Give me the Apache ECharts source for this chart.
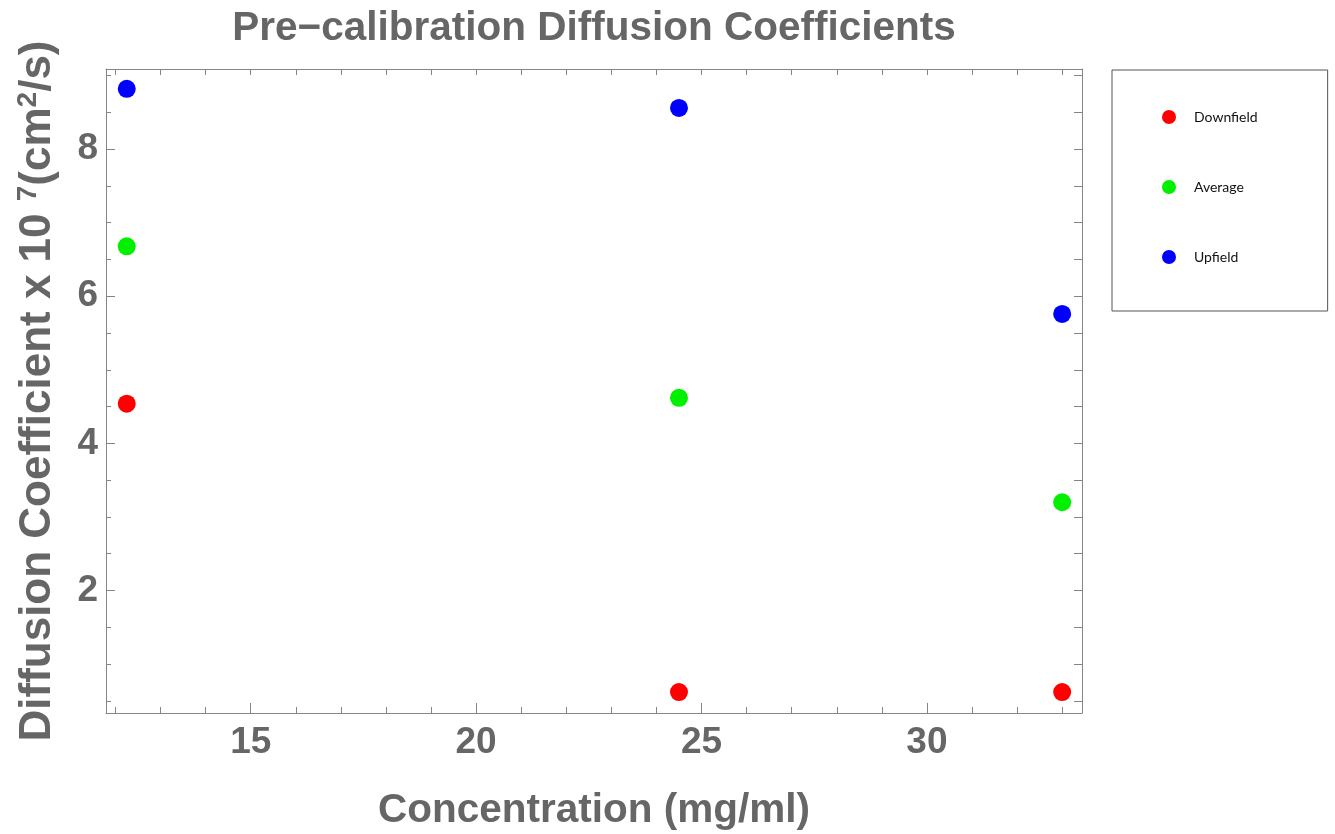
<!DOCTYPE html>
<html>
<head>
<meta charset="utf-8">
<title>Pre-calibration Diffusion Coefficients</title>
<script src="https://cdn.jsdelivr.net/npm/echarts@6/dist/echarts.min.js"></script>
<style>
    html, body { margin: 0; padding: 0; background: #fff; }
    #chart { width: 1335px; height: 834px; }
</style>
</head>
<body>
<div id="chart"></div>
<script>
    // data
    var concentration = [12.25, 24.5, 33];
    var downfield = [4.54, 0.62, 0.62];
    var average = [6.68, 4.62, 3.20];
    var upfield = [8.82, 8.56, 5.76];

    var xMajor = [15, 20, 25, 30];
    var xMinor = [12, 13, 14, 16, 17, 18, 19, 21, 22, 23, 24, 26, 27, 28, 29, 31, 32, 33];
    var yMajor = [2, 4, 6, 8];
    var yMinor = [0.5, 1, 1.5, 2.5, 3, 3.5, 4.5, 5, 5.5, 6.5, 7, 7.5, 8.5, 9];

    var xRange = [11.79, 33.44];
    var yRange = [0.335, 9.09];

    var gray = '#666666';
    var lineGray = '#858585';
    var font = '"Liberation Sans", Arial, sans-serif';

    function pairs(xs, ys) {
        return xs.map(function (x, i) { return [x, ys[i]]; });
    }

    // one axis per side and tick size (Mathematica style frame, ticks inside)
    function frameAxis(pos, range, ticks, len, withLine) {
        return {
            type: 'value',
            position: pos,
            min: range[0],
            max: range[1],
            axisLine: { show: withLine, onZero: false, lineStyle: { color: lineGray, width: 1 } },
            axisTick: { show: true, inside: true, length: len, customValues: ticks, lineStyle: { color: lineGray } },
            axisLabel: { show: false },
            splitLine: { show: false }
        };
    }

    var xBottom = frameAxis('bottom', xRange, xMajor, 10, true);
    xBottom.axisLabel = {
        show: true, customValues: xMajor, margin: 11,
        color: gray, fontFamily: font, fontWeight: 'bold', fontSize: 37
    };
    xBottom.name = 'Concentration (mg/ml)';
    xBottom.nameLocation = 'middle';
    xBottom.nameGap = 77;
    xBottom.nameTextStyle = { color: gray, fontFamily: font, fontWeight: 'bold', fontSize: 40.5 };

    var yLeft = frameAxis('left', yRange, yMajor, 9, true);
    yLeft.axisLabel = {
        show: true, customValues: yMajor, margin: 8,
        color: gray, fontFamily: font, fontWeight: 'bold', fontSize: 37
    };
    yLeft.name = '{a|Diffusion Coefficient x 10 }{s|7}{a|(cm}{s|2}{a|/s)}';
    yLeft.nameLocation = 'middle';
    yLeft.nameGap = 44;
    yLeft.nameTextStyle = {
        color: gray, fontFamily: font, fontWeight: 'bold', fontSize: 44,
        rich: {
            a: { color: gray, fontFamily: font, fontWeight: 'bold', fontSize: 44, lineHeight: 48 },
            s: { color: gray, fontFamily: font, fontWeight: 'bold', fontSize: 28, lineHeight: 48, verticalAlign: 'top' }
        }
    };

    var myChart = echarts.init(document.getElementById('chart'));
    var option = {
        backgroundColor: '#fff',
        animation: false,
        title: {
            text: 'Pre\u2212calibration Diffusion Coefficients',
            left: 589,
            textAlign: 'center',
            top: 3,
            textStyle: { color: gray, fontFamily: font, fontWeight: 'bold', fontSize: 40.5 }
        },
        legend: {
            orient: 'vertical',
            left: 1112,
            top: 70,
            itemWidth: 40,
            itemHeight: 14,
            itemGap: 56,
            padding: [40, 70, 47, 50],
            borderColor: '#555',
            borderWidth: 1,
            icon: 'circle',
            textStyle: { fontFamily: 'Lato, "Open Sans", sans-serif', fontSize: 14, color: '#111' },
            data: ['Downfield', 'Average', 'Upfield']
        },
        grid: { left: 106, right: 253, top: 69, bottom: 121, containLabel: false, outerBoundsMode: 'none' },
        xAxis: [
            xBottom,
            frameAxis('bottom', xRange, xMinor, 6, false),
            frameAxis('top', xRange, xMajor.concat(xMinor), 6, true)
        ],
        yAxis: [
            yLeft,
            frameAxis('left', yRange, yMinor, 5, false),
            frameAxis('right', yRange, yMajor.concat(yMinor), 8, true)
        ],
        series: [
            { name: 'Downfield', type: 'scatter', symbolSize: 18, itemStyle: { color: '#ff0000', opacity: 1 }, data: pairs(concentration, downfield) },
            { name: 'Average', type: 'scatter', symbolSize: 18, itemStyle: { color: '#00f000', opacity: 1 }, data: pairs(concentration, average) },
            { name: 'Upfield', type: 'scatter', symbolSize: 18, itemStyle: { color: '#0000ff', opacity: 1 }, data: pairs(concentration, upfield) }
        ]
    };
    myChart.setOption(option);
    window.addEventListener('resize', function () {
        myChart.resize();
    });
</script>
</body>
</html>
